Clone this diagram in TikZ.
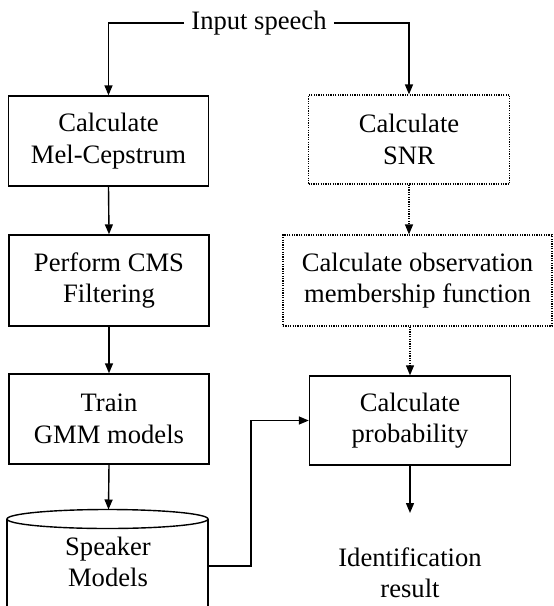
\documentclass[tikz,border=0pt]{standalone}
\usepackage{fontspec}
\setmainfont{Liberation Serif}
\usetikzlibrary{arrows.meta}
\begin{document}
\begin{tikzpicture}[x=1pt,y=-1pt,
  txt/.style={align=center, font=\fontsize{26.6}{31.5}\selectfont, inner sep=0pt},
  box/.style={txt, draw, line width=1.4pt},
  dbox/.style={box, line width=1.2pt, dash pattern=on 1.2pt off 1.2pt},
  arr/.style={line width=1.4pt, -{Triangle[length=10pt,width=8pt]}},
  darr/.style={arr, line width=1.2pt, dash pattern=on 1.2pt off 1.2pt}]
\useasboundingbox (0,0) rectangle (554,606);

\node[txt, inner xsep=7pt] (in) at (259,23) {Input speech};

\node[box, minimum width=200pt, minimum height=90pt] (b1) at (108.5,141) {Calculate\\Mel-Cepstrum};
\node[box, minimum width=200pt, minimum height=91pt] (b2) at (109,280.5) {Perform CMS\\Filtering};
\node[box, minimum width=200pt, minimum height=90pt] (b3) at (109,419) {Train\\GMM models};

\node[dbox, minimum width=201pt, minimum height=89pt] (snr) at (409,139.5) {Calculate\\SNR};
\node[dbox, minimum width=269pt, minimum height=91pt] (obs) at (417.5,280.5) {Calculate observation\\membership function};
\node[box, minimum width=201pt, minimum height=89pt] (prob) at (410,420.5) {Calculate\\probability};
\node[txt] (res) at (410,573) {Identification\\result};
\coordinate (resin) at (410,513);

% cylinder (cut at bottom)
\draw[line width=1.4pt] (7,606) -- (7,519) (208,519) -- (208,606);
\draw[line width=1.4pt] (107.5,519) ellipse [x radius=100.5pt, y radius=9.5pt];
\coordinate (cyltop) at (108.5,509.5);
\coordinate (cylr) at (208,566);
\node[txt] (spk) at (108,562) {Speaker\\Models};

% connectors
\draw[arr] (in.west) -| (b1.north);
\draw[arr] (in.east) -| (snr.north);
\draw[arr] (b1.south) -- (b2.north);
\draw[arr] (b2.south) -- (b3.north);
\draw[arr] (b3.south) -- (cyltop);
\draw[darr] (snr.south) -- (snr.south |- obs.north);
\draw[darr] (prob.north |- obs.south) -- (prob.north);
\draw[arr] (prob.south) -- (resin);
\draw[arr] (cylr) -- (251,566) |- (prob.west);
\end{tikzpicture}
\end{document}
